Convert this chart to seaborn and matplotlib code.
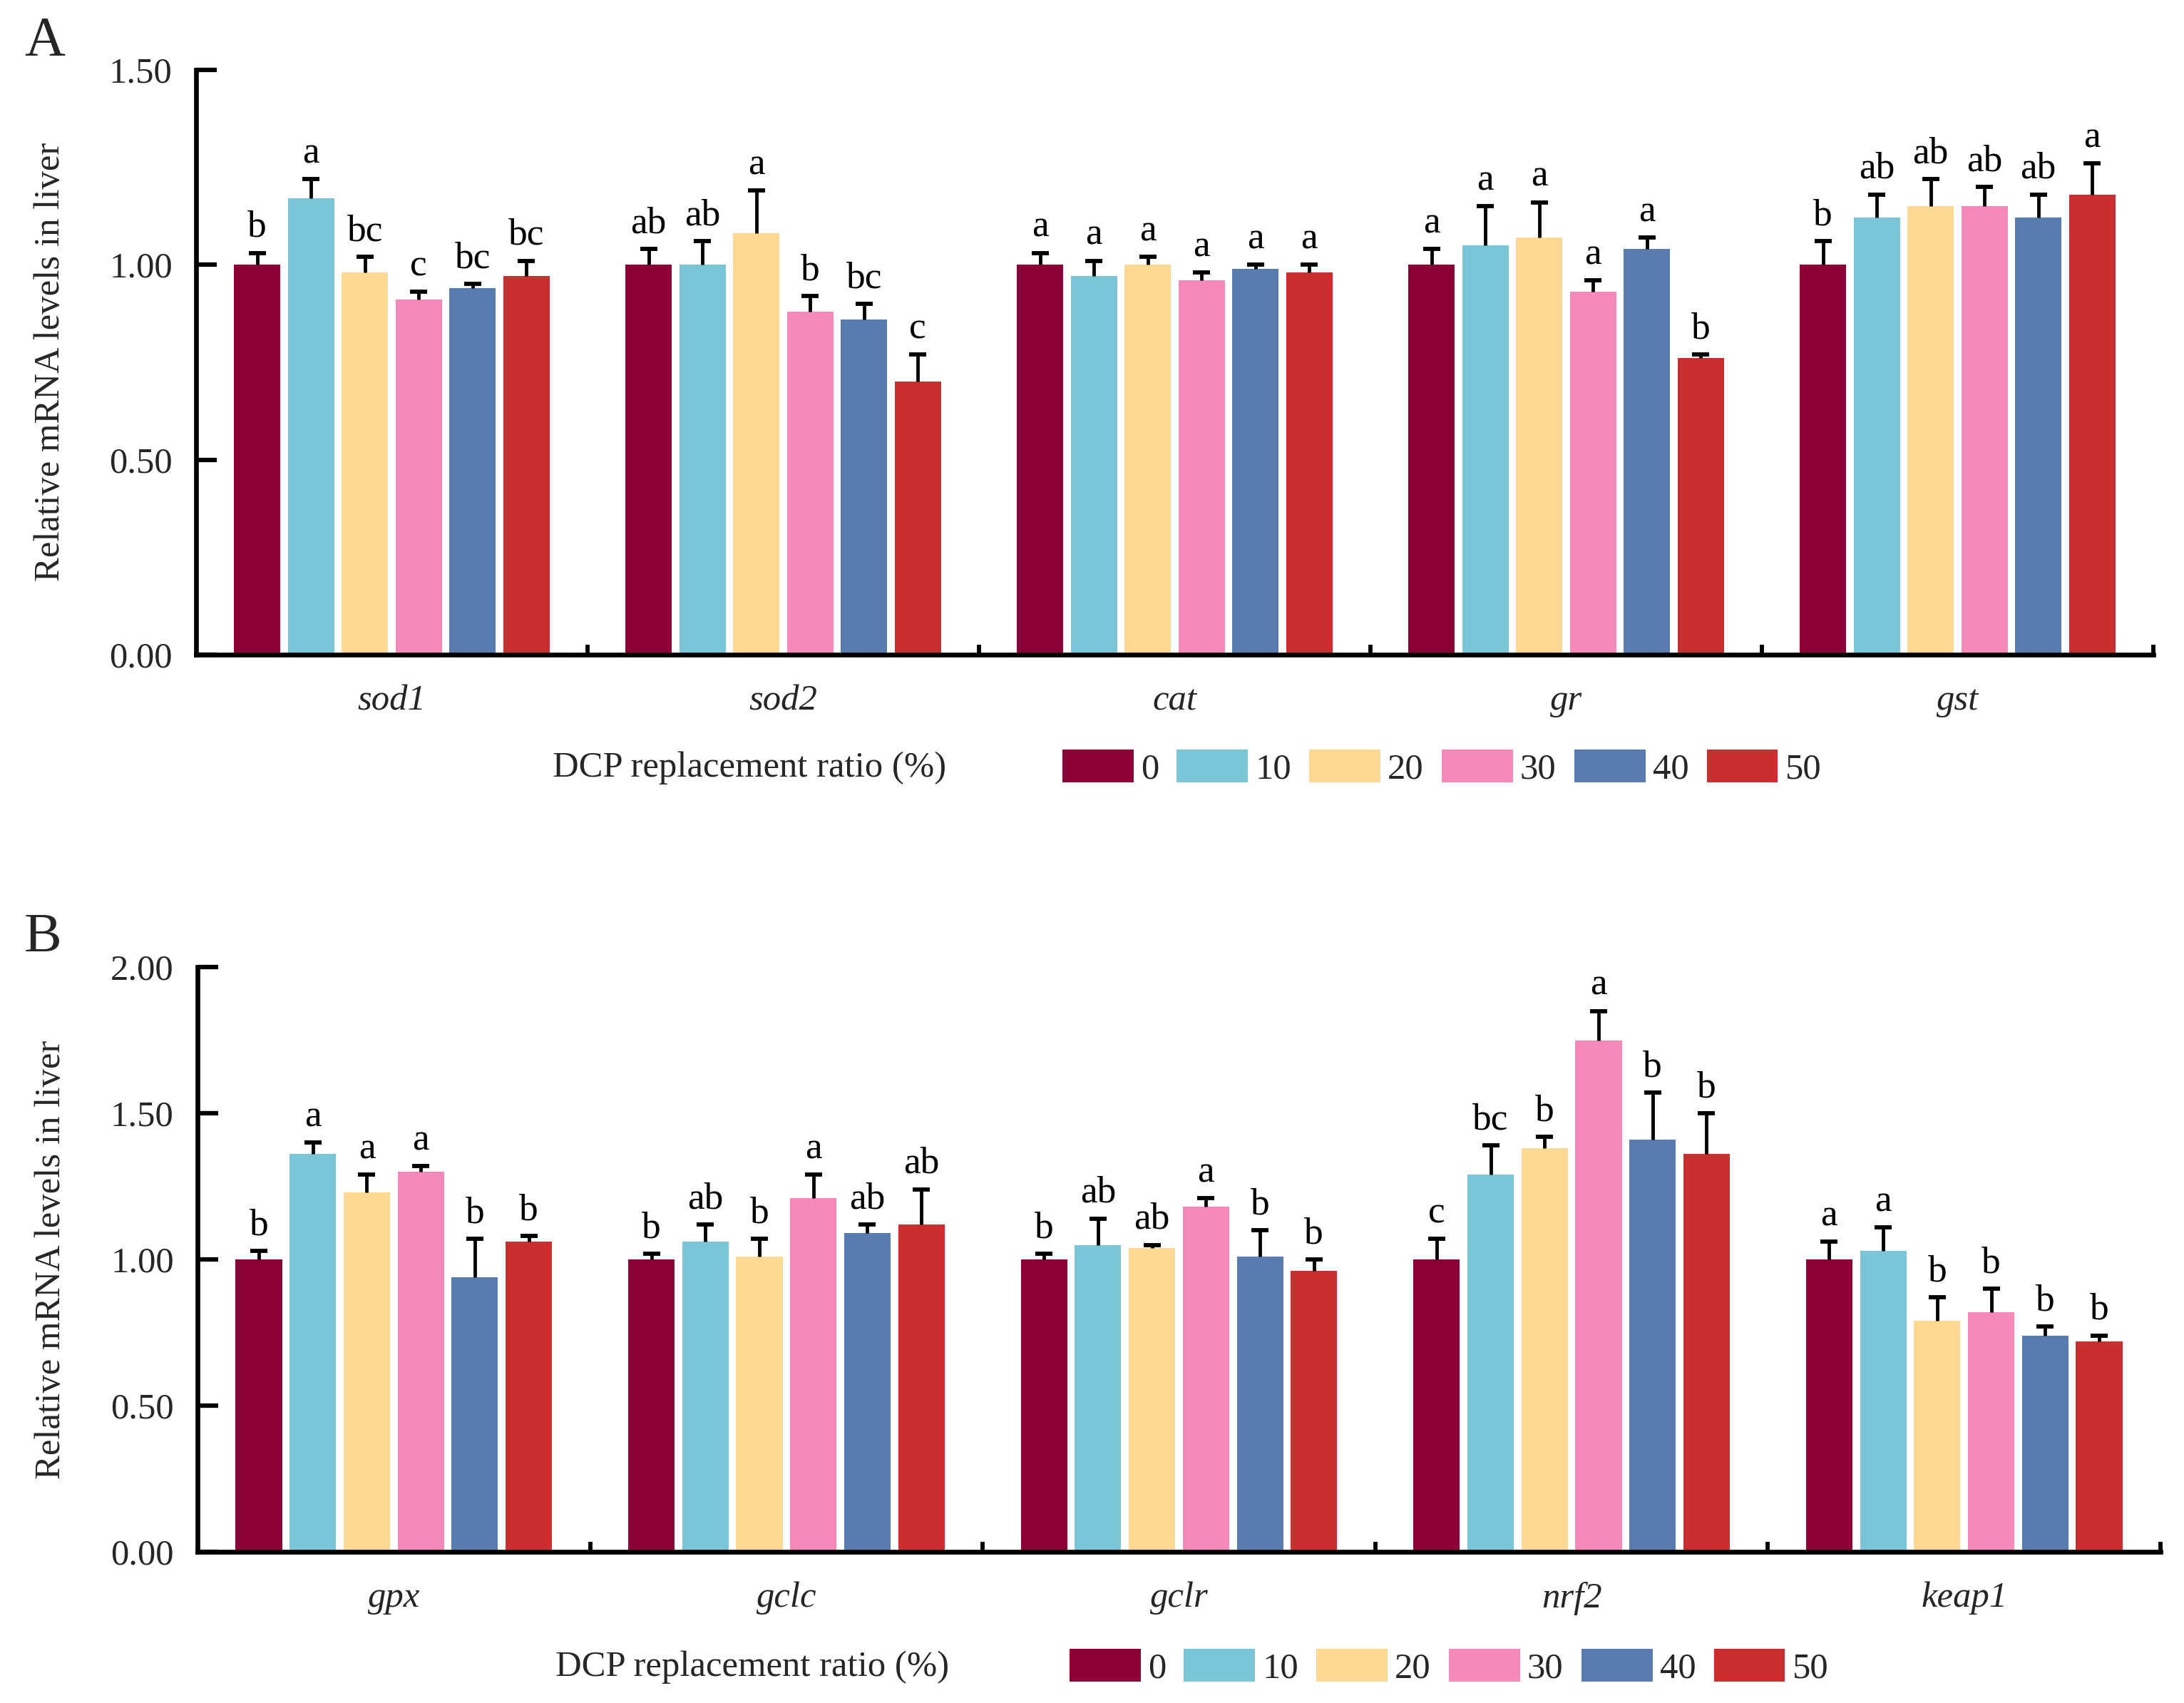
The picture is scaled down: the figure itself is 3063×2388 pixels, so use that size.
import numpy as np
import pandas as pd
import matplotlib
matplotlib.use("Agg")
import matplotlib.pyplot as plt
from matplotlib.patches import Patch
from matplotlib.container import BarContainer
from matplotlib.ticker import FixedLocator
import seaborn as sns

# ---------------- data ----------------
ratios = ["0", "10", "20", "30", "40", "50"]
colors = ["#8B0036", "#7BC6D6", "#FDD993", "#F58ABA", "#587BB0", "#C92F2F"]

genes_a = ["sod1", "sod2", "cat", "gr", "gst"]
mean_a = {
    "sod1": [1.00, 1.17, 0.98, 0.91, 0.94, 0.97],
    "sod2": [1.00, 1.00, 1.08, 0.88, 0.86, 0.70],
    "cat":  [1.00, 0.97, 1.00, 0.96, 0.99, 0.98],
    "gr":   [1.00, 1.05, 1.07, 0.93, 1.04, 0.76],
    "gst":  [1.00, 1.12, 1.15, 1.15, 1.12, 1.18],
}
err_a = {
    "sod1": [0.03, 0.05, 0.04, 0.02, 0.01, 0.04],
    "sod2": [0.04, 0.06, 0.11, 0.04, 0.04, 0.07],
    "cat":  [0.03, 0.04, 0.02, 0.02, 0.01, 0.02],
    "gr":   [0.04, 0.10, 0.09, 0.03, 0.03, 0.01],
    "gst":  [0.06, 0.06, 0.07, 0.05, 0.06, 0.08],
}
sig_a = {
    "sod1": ["b", "a", "bc", "c", "bc", "bc"],
    "sod2": ["ab", "ab", "a", "b", "bc", "c"],
    "cat":  ["a", "a", "a", "a", "a", "a"],
    "gr":   ["a", "a", "a", "a", "a", "b"],
    "gst":  ["b", "ab", "ab", "ab", "ab", "a"],
}

genes_b = ["gpx", "gclc", "gclr", "nrf2", "keap1"]
mean_b = {
    "gpx":   [1.00, 1.36, 1.23, 1.30, 0.94, 1.06],
    "gclc":  [1.00, 1.06, 1.01, 1.21, 1.09, 1.12],
    "gclr":  [1.00, 1.05, 1.04, 1.18, 1.01, 0.96],
    "nrf2":  [1.00, 1.29, 1.38, 1.75, 1.41, 1.36],
    "keap1": [1.00, 1.03, 0.79, 0.82, 0.74, 0.72],
}
err_b = {
    "gpx":   [0.03, 0.04, 0.06, 0.02, 0.13, 0.02],
    "gclc":  [0.02, 0.06, 0.06, 0.08, 0.03, 0.12],
    "gclr":  [0.02, 0.09, 0.01, 0.03, 0.09, 0.04],
    "nrf2":  [0.07, 0.10, 0.04, 0.10, 0.16, 0.14],
    "keap1": [0.06, 0.08, 0.08, 0.08, 0.03, 0.02],
}
sig_b = {
    "gpx":   ["b", "a", "a", "a", "b", "b"],
    "gclc":  ["b", "ab", "b", "a", "ab", "ab"],
    "gclr":  ["b", "ab", "ab", "a", "b", "b"],
    "nrf2":  ["c", "bc", "b", "a", "b", "b"],
    "keap1": ["a", "a", "b", "b", "b", "b"],
}

yticks_a = [0.0, 0.5, 1.0, 1.5]
yticks_b = [0.0, 0.5, 1.0, 1.5, 2.0]
ylabel = "Relative mRNA levels in liver"
legend_title = "DCP replacement ratio (%)"

# ---------------- style ----------------
sns.set_theme(style="white")
plt.rcParams["font.family"] = ["Liberation Serif", "DejaVu Serif"]
plt.rcParams["mathtext.fontset"] = "stix"
FS = 12.2
FS_SIG = 12.8

W, H = 3063, 2388
fig = plt.figure(figsize=(W / 300, H / 300), dpi=300)


def make_panel(rect, genes, means, errs, sigs, yticks, letter, letter_xy, title_xy, leg_x):
    ax = fig.add_axes(rect)
    rows = []
    for g in genes:
        for r, m in zip(ratios, means[g]):
            rows.append({"gene": g, "ratio": r, "value": m})
    df = pd.DataFrame(rows)
    sns.barplot(data=df, x="gene", y="value", hue="ratio", order=genes,
                hue_order=ratios, palette=colors, errorbar=None,
                width=0.825, gap=0.14, saturation=1, linewidth=0,
                legend=False, ax=ax, zorder=2)
    bar_conts = [c for c in ax.containers if isinstance(c, BarContainer)]
    # error bars (upper only) and significance letters
    for hi, cont in enumerate(bar_conts):
        xs, ys, es = [], [], []
        for gi, bar in enumerate(cont.patches):
            xc = bar.get_x() + bar.get_width() / 2
            h = bar.get_height()
            e = errs[genes[gi]][hi]
            xs.append(xc); ys.append(h); es.append(e)
            ax.annotate(sigs[genes[gi]][hi], (xc, h + e), xytext=(0, 2.8),
                        textcoords="offset points", ha="center", va="bottom",
                        fontsize=FS_SIG, color="black")
        xs = np.array(xs); ys = np.array(ys); es = np.array(es)
        ax.errorbar(xs, ys, yerr=[np.zeros_like(es), es], fmt="none",
                    ecolor="black", elinewidth=1.15, capsize=0, zorder=3)
        ax.plot(xs, ys + es, linestyle="none", marker="_", markersize=5.6,
                markeredgewidth=1.4, color="black", zorder=3)

    ax.set_xlim(-0.5, len(genes) - 0.5)
    ax.set_ylim(0, yticks[-1])
    ax.set_yticks(yticks)
    ax.set_yticklabels([f"{t:.2f}" for t in yticks], fontsize=FS)
    ax.set_xticks(range(len(genes)))
    ax.set_xticklabels(genes, fontsize=FS, fontstyle="italic")
    ax.xaxis.set_minor_locator(FixedLocator(np.arange(0.5, len(genes), 1.0)))
    ax.tick_params(axis="x", which="major", length=0, pad=10)
    ax.tick_params(axis="x", which="minor", direction="in", length=3.4,
                   width=1.4, color="black", bottom=True)
    ax.tick_params(axis="y", which="major", direction="in", length=7,
                   width=1.5, color="black", pad=8, left=True)
    ax.set_xlabel("")
    ax.set_ylabel(ylabel, fontsize=FS)
    ax.yaxis.set_label_coords(-0.066, 0.5)
    for s in ["top", "right"]:
        ax.spines[s].set_visible(False)
    for s in ["left", "bottom"]:
        ax.spines[s].set_visible(True)
        ax.spines[s].set_color("black")
        ax.spines[s].set_linewidth(1.6)
    ax.grid(False)
    ax.set_facecolor("white")

    # panel letter
    fig.text(letter_xy[0], letter_xy[1], letter, fontsize=19, ha="left", va="top")
    # legend title + legend
    fig.text(title_xy[0], title_xy[1], legend_title, fontsize=FS, ha="left", va="center")
    handles = [Patch(facecolor=c, edgecolor="none", label=r) for c, r in zip(colors, ratios)]
    fig.legend(handles=handles, loc="center left", bbox_to_anchor=(leg_x, title_xy[1]),
               ncol=6, frameon=False, fontsize=FS, handlelength=1.96,
               handleheight=1.0, handletextpad=0.2, columnspacing=0.5,
               borderpad=0, borderaxespad=0)
    return ax


make_panel([275 / W, 1 - 918 / H, (3020 - 275) / W, (918 - 97.6) / H],
           genes_a, mean_a, err_a, sig_a, yticks_a, "A",
           (34 / W, 1 - 22 / H), (775 / W, 1 - 1077 / H), 1490 / W)
make_panel([277 / W, 1 - 2176 / H, (3030 - 277) / W, (2176 - 1356) / H],
           genes_b, mean_b, err_b, sig_b, yticks_b, "B",
           (34 / W, 1 - 1280 / H), (779 / W, 1 - 2338 / H), 1500 / W)

fig.savefig("out.png", dpi=300, facecolor="white")
